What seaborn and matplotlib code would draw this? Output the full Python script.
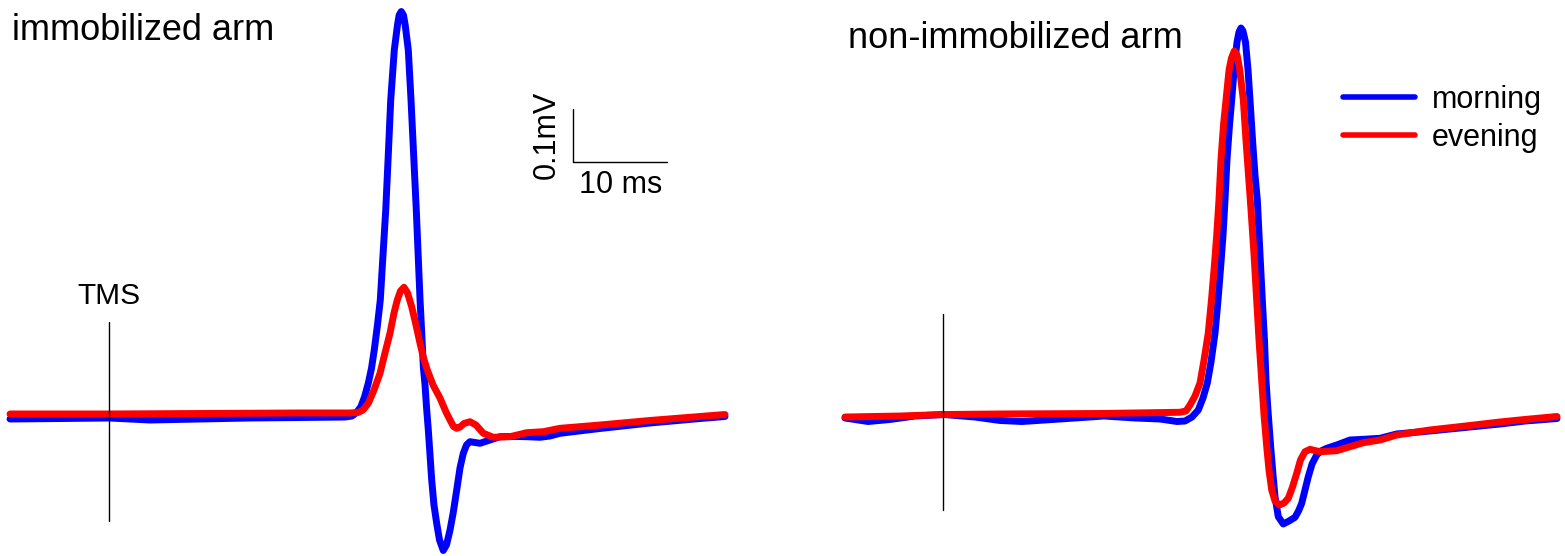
import numpy as np
import pandas as pd
import matplotlib
matplotlib.use("Agg")
import matplotlib.pyplot as plt
import seaborn as sns

# Averaged MEP traces: time after the TMS pulse (ms) and amplitude (mV)
imm_morning_t = [-10.53, -5.21, 0.0, 4.36, 9.68, 15.0, 20.32, 25.11, 25.85, 26.28, 26.78, 27.18,
                 27.59, 27.93, 28.22, 28.56, 28.86, 29.15, 29.44, 29.71, 29.97, 30.35, 30.69,
                 30.87, 31.09, 31.32, 31.51, 31.84, 32.13, 32.41, 32.69, 32.89, 33.09, 33.28,
                 33.44, 33.62, 33.80, 33.97, 34.15, 34.33, 34.57, 34.86, 35.16, 35.56, 35.90,
                 36.28, 36.63, 36.99, 37.34, 37.69, 38.03, 38.40, 38.94, 39.47, 40.53, 41.60,
                 42.98, 44.44, 45.85, 46.91, 47.98, 52.23, 57.55, 62.87, 65.53]
imm_morning_mv = [-0.0075, -0.0066, -0.0056, -0.0094, -0.0075, -0.0056, -0.0047, -0.0038,
                  -0.0019, 0.0038, 0.0150, 0.0338, 0.0600, 0.0882, 0.1220, 0.1689, 0.2158,
                  0.3002, 0.3846, 0.4878, 0.5910, 0.6848, 0.7317, 0.7505, 0.7570, 0.7505,
                  0.7317, 0.6848, 0.5910, 0.4878, 0.3846, 0.3002, 0.2158, 0.1501, 0.0901,
                  0.0563, 0.0094, -0.0281, -0.0750, -0.1220, -0.1689, -0.2032, -0.2345,
                  -0.2542, -0.2439, -0.2158, -0.1820, -0.1407, -0.0994, -0.0719, -0.0563,
                  -0.0501, -0.0516, -0.0531, -0.0469, -0.0407, -0.0403, -0.0407, -0.0418,
                  -0.0394, -0.0343, -0.0253, -0.0150, -0.0066, -0.0028]

imm_evening_t = [-10.53, 0.0, 9.68, 20.32, 25.64, 26.49, 27.02, 27.59, 28.19, 28.83, 29.36,
                 29.89, 30.32, 30.67, 31.01, 31.38, 31.76, 32.20, 32.66, 33.09, 33.46, 33.86,
                 34.47, 35.21, 35.85, 36.28, 36.65, 36.99, 37.34, 37.77, 38.40, 39.04, 39.82,
                 40.88, 42.66, 44.44, 46.20, 47.98, 52.23, 57.55, 62.87, 65.53]
imm_evening_mv = [0.0019, 0.0019, 0.0028, 0.0038, 0.0038, 0.0047, 0.0094, 0.0220, 0.0469,
                  0.0782, 0.1163, 0.1533, 0.1914, 0.2158, 0.2326, 0.2396, 0.2289, 0.2032,
                  0.1689, 0.1345, 0.1069, 0.0844, 0.0563, 0.0319, 0.0056, -0.0094, -0.0216,
                  -0.0250, -0.0225, -0.0159, -0.0126, -0.0188, -0.0343, -0.0418, -0.0407,
                  -0.0332, -0.0313, -0.0250, -0.0188, -0.0103, -0.0028, 0.0009]

non_morning_t = [-10.43, -7.98, -5.64, -2.98, 0.11, 3.40, 6.06, 8.40, 12.45, 17.13, 20.43,
                 23.09, 24.89, 25.74, 26.49, 27.16, 27.66, 28.12, 28.51, 28.94, 29.26, 29.54,
                 29.79, 30.00, 30.21, 30.48, 30.71, 31.01, 31.28, 31.49, 31.70, 31.91, 32.18,
                 32.45, 32.66, 32.93, 33.19, 33.44, 33.70, 33.97, 34.20, 34.36, 34.57, 34.86,
                 35.11, 35.32, 35.67, 36.20, 36.81, 37.45, 37.82, 38.16, 38.51, 38.86, 39.26,
                 39.76, 40.21, 40.82, 41.88, 43.30, 44.71, 46.49, 48.27, 51.81, 56.06, 59.26,
                 61.91, 65.32]
non_morning_mv = [-0.0056, -0.0122, -0.0084, -0.0019, 0.0009, -0.0038, -0.0103, -0.0122,
                  -0.0075, -0.0019, -0.0056, -0.0075, -0.0122, -0.0113, -0.0038, 0.0094,
                  0.0319, 0.0600, 0.0994, 0.1538, 0.2158, 0.2782, 0.3377, 0.4034, 0.4784,
                  0.5441, 0.5910, 0.6567, 0.6998, 0.7186, 0.7261, 0.7205, 0.6998, 0.6473,
                  0.5910, 0.5159, 0.4503, 0.4034, 0.3096, 0.2158, 0.1407, 0.0657, 0.0094,
                  -0.0595, -0.1126, -0.1533, -0.1908, -0.2045, -0.1989, -0.1919, -0.1801,
                  -0.1657, -0.1407, -0.1158, -0.0919, -0.0750, -0.0675, -0.0625, -0.0563,
                  -0.0469, -0.0456, -0.0437, -0.0356, -0.0300, -0.0225, -0.0169, -0.0113,
                  -0.0066]

non_evening_t = [-10.43, -4.57, 0.11, 6.06, 16.70, 25.21, 25.85, 26.28, 26.81, 27.34, 27.77,
                 28.22, 28.56, 28.86, 29.12, 29.36, 29.57, 29.84, 30.11, 30.43, 30.69, 30.99,
                 31.28, 31.54, 31.95, 32.23, 32.50, 32.77, 33.09, 33.37, 33.62, 33.90, 34.15,
                 34.44, 34.68, 34.97, 35.32, 35.78, 36.28, 36.73, 37.18, 37.63, 38.03, 38.51,
                 39.04, 40.11, 41.88, 43.30, 44.71, 46.49, 48.27, 51.81, 56.06, 59.26, 61.91,
                 65.32]
non_evening_mv = [-0.0038, -0.0019, 0.0009, 0.0019, 0.0028, 0.0051, 0.0075, 0.0188, 0.0356,
                  0.0600, 0.1032, 0.1538, 0.2158, 0.2782, 0.3377, 0.4034, 0.4784, 0.5441,
                  0.5910, 0.6473, 0.6698, 0.6829, 0.6754, 0.6510, 0.5910, 0.5159, 0.4503,
                  0.3846, 0.3002, 0.2158, 0.1407, 0.0657, 0.0000, -0.0595, -0.1032, -0.1407,
                  -0.1614, -0.1689, -0.1651, -0.1563, -0.1351, -0.1094, -0.0844, -0.0689,
                  -0.0644, -0.0689, -0.0670, -0.0595, -0.0520, -0.0469, -0.0375, -0.0281,
                  -0.0197, -0.0131, -0.0084, -0.0028]

sessions = ["morning", "evening"]
colors = {"morning": "#0000ff", "evening": "#ff0000"}
panel_titles = ["immobilized arm", "non-immobilized arm"]

frames = []
for arm, traces in [
    ("immobilized", {"morning": (imm_morning_t, imm_morning_mv),
                     "evening": (imm_evening_t, imm_evening_mv)}),
    ("non-immobilized", {"morning": (non_morning_t, non_morning_mv),
                         "evening": (non_evening_t, non_evening_mv)}),
]:
    for s in sessions:
        t, v = traces[s]
        frames.append(pd.DataFrame({"t": t, "mv": v, "session": s, "arm": arm}))
df = pd.concat(frames, ignore_index=True)

sns.set_theme(style="white")
plt.rcParams["font.family"] = ["Liberation Sans", "DejaVu Sans"]
plt.rcParams["text.color"] = "black"

W, H = 1565, 556
fig = plt.figure(figsize=(W / 100, H / 100), dpi=100)

px_per_ms = 9.4
px_per_mv = 533.0
xlim = (-11.0, 66.0)
ylim = (-(H - 415) / px_per_mv, 415 / px_per_mv)
ax_w = (xlim[1] - xlim[0]) * px_per_ms

# TMS pulse pixel positions of each panel
tms_px = [109, 943]
axes = []
for i, arm in enumerate(["immobilized", "non-immobilized"]):
    left = tms_px[i] + xlim[0] * px_per_ms
    ax = fig.add_axes([left / W, 0, ax_w / W, 1])
    sub = df[df["arm"] == arm]
    sns.lineplot(data=sub, x="t", y="mv", hue="session", hue_order=sessions,
                 palette=colors, sort=False, estimator=None, linewidth=5.0,
                 solid_joinstyle="round", solid_capstyle="round",
                 ax=ax, legend=(i == 1))
    ax.set_xlim(*xlim)
    ax.set_ylim(*ylim)
    ax.set_axis_off()
    axes.append(ax)

# TMS markers
axes[0].plot([0, 0], [0.174, -0.198], color="black", lw=1.0)
axes[1].plot([0, 0], [0.189, -0.179], color="black", lw=1.0)
axes[0].text(0, 0.224, "TMS", ha="center", va="center", fontsize=21.5, color="black")

# Scale bar: 10 ms x 0.1 mV
sb_t, sb_v = 49.4, 0.475
axes[0].plot([sb_t, sb_t, sb_t + 10], [sb_v + 0.1, sb_v, sb_v], color="black", lw=1.0)
axes[0].text(sb_t + 5, sb_v - 0.043, "10 ms", ha="center", va="center", fontsize=22,
             color="black")
axes[0].text(sb_t - 2.8, sb_v + 0.05, "0.1mV", ha="center", va="center",
             rotation=90, fontsize=22, color="black")

# Panel titles
fig.text(12 / W, 1 - 40 / H, panel_titles[0], ha="left", va="baseline", fontsize=26,
         color="black")
fig.text(848 / W, 1 - 48 / H, panel_titles[1], ha="left", va="baseline", fontsize=26,
         color="black")

leg = axes[1].legend(loc="upper left", bbox_to_anchor=(1343 / W, 1 - 85 / H),
                     bbox_transform=fig.transFigure, frameon=False, fontsize=22,
                     handlelength=2.35, handletextpad=0.55, labelspacing=0.25,
                     borderaxespad=0, borderpad=0)
for line in leg.get_lines():
    line.set_linewidth(4.0)
for txt in leg.get_texts():
    txt.set_color("black")

fig.savefig("out.png", dpi=100)
